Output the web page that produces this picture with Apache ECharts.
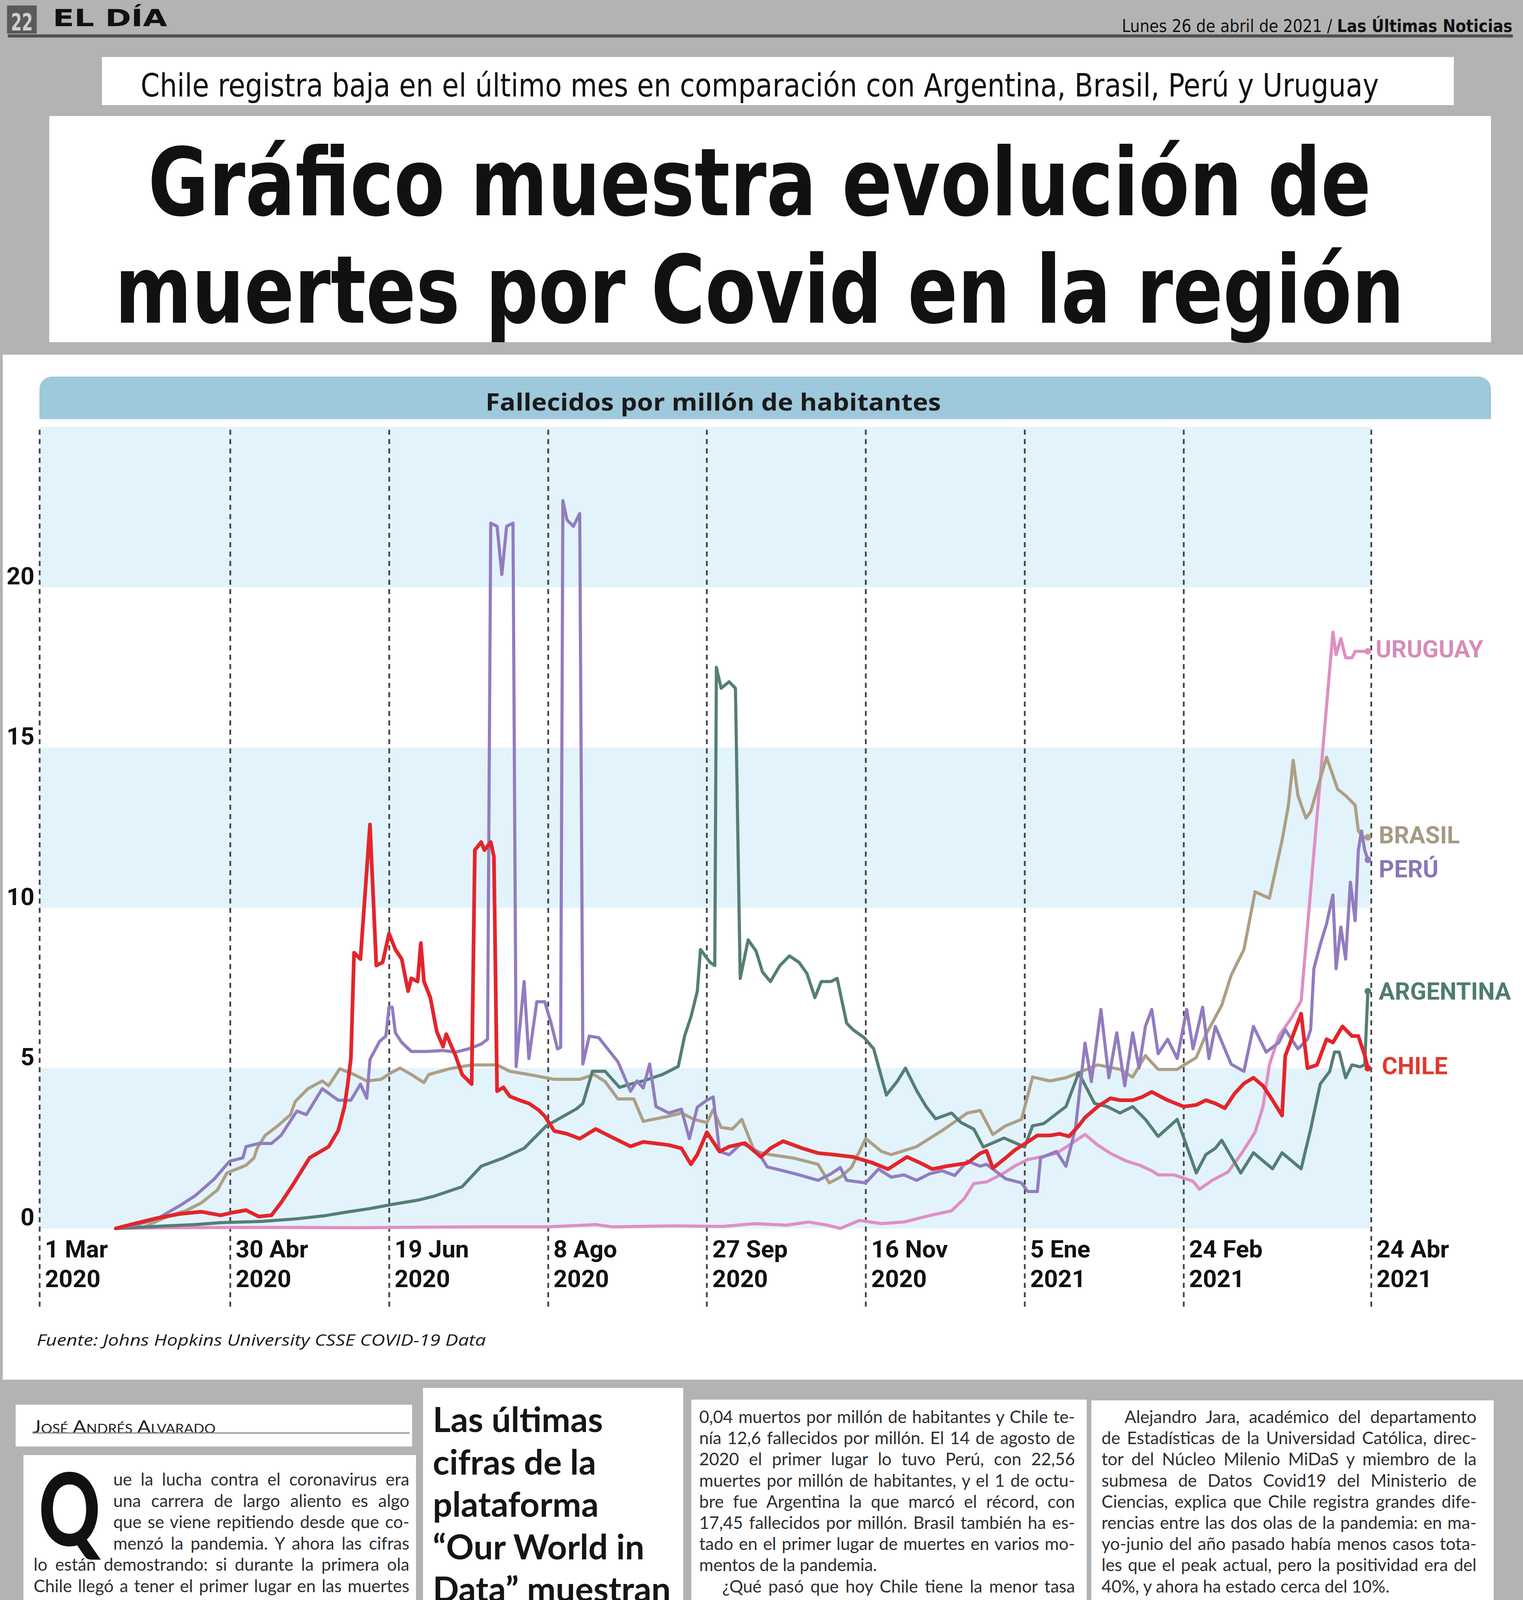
<!DOCTYPE html>
<html><head><meta charset="utf-8">
<script src="https://cdn.jsdelivr.net/npm/echarts@6/dist/echarts.min.js"></script>
<style>
html,body{margin:0;padding:0;}
body{width:3899px;height:4960px;background:#b3b3b3;position:relative;overflow:hidden;}
.box{position:absolute;background:#fff;}
.fit{position:absolute;white-space:nowrap;transform-origin:0 0;line-height:1;}
.col{position:absolute;font-family:Lato,'Noto Sans',sans-serif;font-size:44px;color:#2e2e2e;}
.col .ln{white-space:nowrap;}
.col .ln span{display:inline-block;transform-origin:0 0;}
#chart{position:absolute;left:0;top:908px;width:3899px;height:2624px;}
</style></head>
<body>
<!-- top header -->
<div class="box" style="left:18px;top:14px;width:76px;height:72px;background:#5a5a5a;"></div>
<div class="fit" data-w="56" style="left:28px;top:22px;font:bold 60px 'DejaVu Sans Condensed','DejaVu Sans';color:#cfcfcf;">22</div>
<div class="fit" data-w="293" style="left:135px;top:11px;font:bold 60px 'DejaVu Sans';color:#111;">EL DÍA</div>
<div class="fit" data-w="1000" style="left:2872px;top:41px;font:44px 'DejaVu Sans Condensed','DejaVu Sans';color:#111;">Lunes 26 de abril de 2021 / <b>Las Últimas Noticias</b></div>
<div class="box" style="left:20px;top:88px;width:3853px;height:8px;background:#505050;"></div>

<!-- subtitle + title -->
<div class="box" style="left:261px;top:146px;width:3461px;height:123px;"></div>
<div class="fit" data-w="3170" style="left:360px;top:171px;font:82px 'DejaVu Sans Condensed','DejaVu Sans';color:#111;">Chile registra baja en el último mes en comparación con Argentina, Brasil, Perú y Uruguay</div>
<div class="box" style="left:126px;top:297px;width:3691px;height:579px;"></div>
<div class="fit" data-w="3131" style="left:379px;top:328px;font:bold 240px 'DejaVu Sans Condensed','DejaVu Sans';color:#111;">Gráfico muestra evolución de</div>
<div class="fit" data-w="3301" style="left:294px;top:603px;font:bold 240px 'DejaVu Sans Condensed','DejaVu Sans';color:#111;">muertes por Covid en la región</div>

<!-- chart panel -->
<div class="box" style="left:7px;top:908px;width:3892px;height:2624px;"></div>
<div class="box" style="left:101px;top:964px;width:3716px;height:109px;background:#9ec8dc;border-radius:32px 32px 0 0;"></div>
<div class="fit" data-w="1166" style="left:1243px;top:987px;font:bold 60px 'Open Sans','Noto Sans',sans-serif;color:#1a1a1a;">Fallecidos por millón de habitantes</div>
<div class="fit" data-w="1150" style="left:94px;top:3402px;font:italic 40px 'Open Sans','Noto Sans',sans-serif;color:#1a1a1a;">Fuente: Johns Hopkins University CSSE COVID-19 Data</div>
<div id="chart"></div>

<!-- article -->
<div class="box" style="left:40px;top:3596px;width:1015px;height:107px;"></div>
<div class="fit" data-w="469" style="left:83px;top:3624px;font:46px Lato,'Noto Sans',sans-serif;font-variant:small-caps;color:#222;">José Andrés Alvarado</div>
<div class="box" style="left:83px;top:3667px;width:966px;height:3px;background:#8a8a8a;"></div>
<div class="box" style="left:60px;top:3725px;width:1005px;height:1235px;"></div>
<div class="fit" data-w="158" style="left:99px;top:3702px;font:900 258px Lato,'Noto Sans',sans-serif;color:#111;">Q</div>
<div class="col" id="col1" style="left:86px;top:3759px;width:962px;"></div>

<div class="box" style="left:1083px;top:3553px;width:666px;height:1279px;"></div>
<div class="col" id="col2" style="left:1108px;top:3578px;font-weight:bold;font-size:88px;line-height:108.6px;color:#151515;"></div>

<div class="box" style="left:1770px;top:3583px;width:1012px;height:1377px;"></div>
<div class="col" id="col3" style="left:1790px;top:3599px;width:962px;"></div>
<div class="box" style="left:2794px;top:3585px;width:1030px;height:1375px;"></div>
<div class="col" id="col4" style="left:2820px;top:3599px;width:960px;"></div>

<script>
// ---------------- chart data (x = days since 1 Mar 2020, y = deaths per million) ----------------
const TICK_DAYS = [0, 60, 110, 160, 210, 260, 310, 360, 419];
const TICK_DAY_MONTH = ['1 Mar', '30 Abr', '19 Jun', '8 Ago', '27 Sep', '16 Nov', '5 Ene', '24 Feb', '24 Abr'];
const TICK_YEAR = ['2020', '2020', '2020', '2020', '2020', '2020', '2021', '2021', '2021'];
const Y_TICKS = [0, 5, 10, 15, 20];
const BANDS = [[0, 5], [10, 15], [20, 25]];

const URUGUAY = [[24,0],[40,0.02],[60,0.03],[80,0.03],[100,0.02],[120,0.04],[140,0.05],[160,0.05],[175,0.12],[180,0.05],[200,0.08],[215,0.06],[225,0.15],[235,0.1],[242,0.2],[248,0.1],[252,0.0],[258,0.25],[265,0.15],[272,0.2],[280,0.4],[287,0.55],[291,0.93],[294,1.4],[298,1.45],[303,1.7],[307,1.95],[311,2.15],[316,2.25],[320,2.34],[324,2.6],[329,2.93],[333,2.6],[337,2.34],[342,2.1],[346,1.98],[350,1.8],[352,1.67],[357,1.67],[363,1.47],[365,1.22],[369,1.5],[374,1.76],[378,2.3],[382.5,3.0],[385,3.8],[387,5.1],[390,6.0],[394,6.57],[397,7.1],[407,18.6],[408,17.9],[409.5,18.4],[411,17.8],[413,17.8],[414,18.0],[418,18.0]];

const BRASIL = [[33,0.05],[41,0.4],[46,0.55],[51,0.8],[56,1.2],[59,1.73],[62,1.85],[65,1.97],[67.5,2.2],[68.5,2.5],[71,2.9],[75,3.2],[79,3.55],[80.5,3.96],[84.5,4.36],[89,4.6],[91,4.45],[94.5,4.98],[99,4.8],[103,4.6],[107.5,4.65],[110.5,4.85],[113.5,5.0],[117,4.8],[121,4.55],[122.5,4.8],[129,4.98],[136,5.1],[144,5.1],[148,4.9],[154,4.8],[162,4.65],[170,4.65],[174.5,4.8],[178,4.58],[182,4.04],[187,4.04],[190,3.34],[198,3.5],[202,3.6],[206,3.4],[210,3.3],[212,3.7],[214.5,3.15],[218,3.1],[221,3.4],[225,2.4],[230,2.3],[237,2.2],[245,2.0],[248.5,1.42],[252,1.6],[255.5,1.9],[260,2.8],[265,2.4],[268,2.3],[276,2.55],[284,3.05],[292,3.6],[296,3.68],[300,2.93],[304,3.2],[309,3.4],[312.5,4.72],[318,4.6],[323,4.7],[328,4.9],[333,5.1],[340,4.96],[344,4.72],[348,5.39],[352,4.96],[358,4.96],[364,5.33],[367,6.04],[372,6.96],[375,7.9],[379,8.7],[382.5,10.5],[387,10.3],[391,12.1],[393,13.2],[394.5,14.6],[396,13.5],[398.5,12.8],[400,13.0],[405,14.7],[408.5,13.7],[411,13.5],[414,13.2],[415,12.4],[416.5,12.2],[418,12.2]];

const ARGENTINA = [[24,0],[40,0.08],[49,0.12],[57,0.18],[70,0.22],[81,0.3],[90,0.4],[96,0.5],[104,0.62],[111,0.75],[119,0.88],[124,1.0],[127,1.1],[133,1.3],[139,1.94],[146,2.2],[152.5,2.5],[159.5,3.2],[164,3.45],[169,3.73],[171,3.9],[174,4.9],[178,4.9],[182.5,4.4],[186,4.5],[190,4.6],[196,4.8],[201,5.05],[203,6.0],[205,6.6],[207,7.4],[208,8.7],[211,8.3],[212.5,8.2],[213,17.5],[214.5,16.85],[217,17.05],[219,16.85],[220.5,7.8],[223,9.0],[225.5,8.65],[227.5,8.0],[230,7.7],[233,8.2],[236,8.5],[239,8.3],[241.5,7.95],[244,7.2],[246,7.7],[249,7.7],[251,7.8],[254,6.4],[256,6.2],[259.5,5.95],[262.5,5.6],[266.5,4.16],[270,4.6],[272.5,5.0],[276,4.3],[279,3.8],[282,3.42],[287,3.6],[290,3.3],[294,3.1],[297,2.54],[303.5,2.82],[310,2.54],[312.5,3.2],[316,3.27],[321,3.65],[323,3.8],[327,4.85],[332,3.9],[336,3.8],[340,3.6],[344,3.8],[348,3.4],[352,2.87],[358,3.4],[364,1.73],[367,2.3],[370,2.5],[372,2.75],[378,1.73],[382,2.36],[388,1.86],[391,2.36],[397,1.86],[400,3.1],[403,4.5],[406,4.9],[407.5,5.5],[409,5.5],[411,4.7],[413,5.1],[415.5,5.04],[417,5.1],[418,7.4]];

const PERU = [[24,0],[30,0.1],[37,0.3],[44,0.7],[49,1.02],[55,1.54],[59,2.0],[60,2.1],[64,2.2],[65,2.55],[69,2.65],[73,2.65],[76,2.9],[81,3.66],[84,3.55],[89,4.36],[94,4.0],[98,4.0],[101,4.5],[103,4.06],[104,5.27],[107,5.83],[109,6.0],[110,6.9],[111,6.9],[112,6.1],[114,5.8],[117,5.52],[122,5.52],[127,5.55],[131,5.5],[135,5.6],[139,5.75],[141,5.9],[142,22.0],[144,21.9],[145.5,20.4],[147,21.9],[149,22.0],[150,5.05],[152.5,7.7],[154,5.3],[156.5,7.07],[159,7.07],[161,6.4],[163,5.6],[164,5.65],[164.7,22.7],[166,22.1],[168,21.9],[170,22.3],[171,5.13],[173,6.0],[176,5.95],[182,5.2],[186,4.28],[188,4.6],[190,4.38],[192,5.13],[194,3.8],[198,3.6],[202,3.72],[204.5,2.8],[207,3.78],[210,4.0],[212,4.1],[214,2.4],[217,2.3],[221,2.66],[226,2.4],[229,1.92],[234,1.8],[239,1.67],[245,1.5],[249,1.7],[252,1.9],[254,1.5],[260,1.42],[264,1.85],[268,1.6],[272,1.67],[276,1.5],[280,1.7],[284,1.8],[288,1.65],[292,2.1],[296,1.94],[298,2.0],[304,1.55],[309,1.42],[311,1.15],[314,1.15],[315,2.2],[320,2.4],[323,1.94],[326,3.13],[329,5.78],[331,4.58],[334,6.83],[336.5,4.7],[339,6.1],[341.5,4.45],[344,6.1],[346,5.0],[348,6.3],[350,6.83],[352,5.45],[355,5.9],[358,5.3],[361,6.83],[363,5.6],[366,6.9],[368,5.3],[370,6.3],[375,5.12],[379,4.9],[382,6.3],[386,5.5],[390,5.8],[392,6.2],[396,5.6],[399,5.9],[400,6.2],[401,8.1],[403,8.85],[405,9.5],[407,10.4],[408,8.1],[409.5,9.4],[411,8.4],[412.5,10.8],[414,9.6],[415,11.8],[416,12.4],[417,11.8],[418,11.5]];

const CHILE = [[24,0.0],[30,0.15],[37,0.32],[44,0.45],[51,0.52],[57,0.41],[61,0.5],[65,0.57],[69,0.37],[73,0.41],[76,0.8],[80,1.4],[85,2.2],[91,2.55],[94,3.05],[96,3.8],[97,4.5],[98,5.3],[99,8.6],[101,8.4],[104,12.6],[106,8.2],[108,8.3],[110,9.2],[112,8.7],[114,8.4],[116,7.4],[117,7.8],[119,7.7],[120,8.9],[121,7.7],[123,7.2],[125,6.15],[127,5.67],[128,6.06],[131,5.37],[133,4.8],[136,4.5],[137,11.8],[139,12.05],[140,11.8],[142,12.05],[143,11.6],[144,4.28],[146,4.4],[148,4.12],[151,4.0],[154,3.9],[157,3.7],[159,3.5],[162,3.04],[166,2.95],[170,2.8],[175,3.1],[180,2.85],[186,2.56],[190,2.7],[194,2.65],[198,2.6],[202,2.5],[205,2.0],[207,2.3],[210,3.0],[214,2.4],[217,2.55],[222,2.66],[227,2.23],[230,2.5],[234,2.72],[240,2.5],[245,2.35],[250,2.3],[256,2.23],[262,2.05],[267,1.85],[273,2.23],[277,2.05],[281,1.85],[286,1.95],[292,2.04],[296,2.34],[298,2.42],[300,1.88],[304,2.2],[307,2.45],[311,2.7],[314,2.9],[318,2.9],[321,2.95],[324,2.87],[327,3.2],[329,3.46],[333,3.8],[337,4.06],[340,4.0],[344,4.0],[347,4.1],[350,4.26],[353,4.1],[355,4.0],[360,3.8],[364,3.85],[367,4.0],[370,3.9],[373,3.75],[376,4.2],[379,4.52],[382,4.7],[385,4.45],[388,4.0],[391,3.52],[392,5.38],[397,6.7],[399,5.0],[402,5.1],[405,5.9],[407,5.8],[410,6.3],[413,6.0],[415,6.0],[417,5.4],[418,5.0]];

const SERIES_DEF = [
  {name: 'URUGUAY',   data: URUGUAY,   color: '#df8fc3', label: '#d68cba', width: 8,   dx: 0,  dy: 0},
  {name: 'BRASIL',    data: BRASIL,    color: '#ad9f85', label: '#a59b83', width: 8,   dx: 8,  dy: 0},
  {name: 'ARGENTINA', data: ARGENTINA, color: '#557e74', label: '#4f7b70', width: 8,   dx: 8,  dy: 6},
  {name: 'PERÚ',      data: PERU,      color: '#927cbf', label: '#8b75b8', width: 8,   dx: 8,  dy: 30},
  {name: 'CHILE',     data: CHILE,     color: '#e3252b', label: '#e0392d', width: 9.5, dx: 16, dy: 0}
];

// ---------------- article text ----------------
const COL1 = [
  '#ue la lucha contra el coronavirus era',
  '#una carrera de largo aliento es algo',
  '#que se viene repitiendo desde que co-',
  '#menzó la pandemia. Y ahora las cifras',
  'lo están demostrando: si durante la primera ola',
  'Chile llegó a tener el primer lugar en las muertes',
  'por millón de habitantes entre países de América',
  'del Sur y Uruguay era destacado por lo contrario,',
  'un año después el escenario es completamente',
  'distinto.|',
  '>Según “Our World in Data”, un depositorio de',
  'información online editado por profesionales de',
  'la Universidad de Oxford, este sábado 24 de abril',
  'Chile registró 5,13 muertos por cada millón de',
  'habitantes, por debajo de Argentina, Perú, Brasil',
  'y Uruguay. Esta nación tuvo 17,89 muertos por',
  'millón de habitantes, lo que se traduce en unos',
  '70 muertos diarios en un país de solo 3,4 millo-',
  'nes de habitantes.|',
  '>El mismo sitio web mostró que el 14 de junio',
  'de 2020 (el día de mayor muertes en Chile por',
  'Covid, según esta medición), Uruguay registraba'
];
const COL2 = ['Las últimas', 'cifras de la', 'plataforma', '“Our World in', 'Data” muestran',
  'que la', 'evolución de la', 'segunda ola es', 'distinta al peak', 'del año 2020.'];
const COL3 = [
  '0,04 muertos por millón de habitantes y Chile te-',
  'nía 12,6 fallecidos por millón. El 14 de agosto de',
  '2020 el primer lugar lo tuvo Perú, con 22,56',
  'muertes por millón de habitantes, y el 1 de octu-',
  'bre fue Argentina la que marcó el récord, con',
  '17,45 fallecidos por millón. Brasil también ha es-',
  'tado en el primer lugar de muertes en varios mo-',
  'mentos de la pandemia.|',
  '>¿Qué pasó que hoy Chile tiene la menor tasa',
  'de letalidad entre sus vecinos?|',
  '>“Las razones son múltiples”, dice la doctora',
  'Paula Margozzini, epidemióloga de la Universi-',
  'dad Católica. “Nuestros vecinos, especialmente',
  'Brasil, comenzaron a fines de 2020 con enormes',
  'olas y el resto de los países latinoamericanos',
  'también le siguieron en el verano y comienzos de',
  'este año, y esto hace inevitablemente subir la',
  'mortalidad en los siguientes meses. Estas tasas',
  'expresan una mezcla entre incidencia y letalidad,',
  'es decir, pueden subir por mucho contagio o por',
  'no tener suficiente capacidad de camas críticas.',
  'En el caso de Uruguay, se agrega el hecho de que',
  'tiene población más envejecida, por lo cual, si no',
  'protege especialmente a los adultos mayores,',
  'tendrá gran letalidad”.|'
];
const COL4 = [
  '>Alejandro Jara, académico del departamento',
  'de Estadísticas de la Universidad Católica, direc-',
  'tor del Núcleo Milenio MiDaS y miembro de la',
  'submesa de Datos Covid19 del Ministerio de',
  'Ciencias, explica que Chile registra grandes dife-',
  'rencias entre las dos olas de la pandemia: en ma-',
  'yo-junio del año pasado había menos casos tota-',
  'les que el peak actual, pero la positividad era del',
  '40%, y ahora ha estado cerca del 10%.|',
  '>No obstante, y evitando cualquier lectura',
  'triunfalista, Jara atribuye la baja en muertes en',
  'Chile a varios factores, entre ellos la vacunación',
  'efectiva de los grupos con mayor mortalidad, co-',
  'mo los adultos mayores y enfermos crónicos, y el',
  'comportamiento: “Se puede decir que la gente',
  'ha aprendido a cuidarse mucho mejor, especial-',
  'mente los grupos de mayor riesgo”, dice.|',
  '>Jara explica que la actual ola de contagios tie-',
  'ne efectos muy distintos: hoy tenemos más casos',
  'sintomáticos confirmados, pero hay más jóvenes',
  'enfermos de gravedad que adultos mayores. Por',
  'lo mismo, llama a no relajar ninguna medida, ya',
  'que estos pacientes de menor edad, si bien tie-',
  'nen mejor pronóstico de sobrevida, igual ocupan',
  'camas críticas y lo hacen por más tiempo.|'
];

function buildCol(id, lines, W, lh, justify) {
  const el = document.getElementById(id);
  el.innerHTML = '';
  lines.forEach(raw => {
    let s = raw, ind = 0, last = !justify;
    if (s.startsWith('#')) { ind = 204; s = s.slice(1); }
    if (s.startsWith('>')) { ind = 59; s = s.slice(1); }
    if (s.endsWith('|')) { last = true; s = s.slice(0, -1); }
    const ln = document.createElement('div');
    ln.className = 'ln';
    ln.style.height = lh + 'px';
    ln.style.lineHeight = lh + 'px';
    const sp = document.createElement('span');
    sp.textContent = s;
    sp.style.marginLeft = ind + 'px';
    ln.appendChild(sp);
    el.appendChild(ln);
    if (W) {
      const tgt = W - ind;
      const w = sp.getBoundingClientRect().width;
      if (!last) {
        const n = (s.match(/ /g) || []).length;
        if (n) sp.style.wordSpacing = ((tgt - w) / n) + 'px';
      } else if (w > tgt) {
        sp.style.transform = 'scaleX(' + (tgt / w) + ')';
      }
    }
  });
}
function fitAll() {
  document.querySelectorAll('.fit').forEach(el => {
    el.style.transform = 'none';
    const w = el.getBoundingClientRect().width;
    const t = parseFloat(el.dataset.w);
    if (w > 0) el.style.transform = 'scaleX(' + (t / w) + ')';
  });
}
function layoutText() {
  fitAll();
  buildCol('col1', COL1, 962, 54.6, true);
  buildCol('col2', COL2, 0, 108.6, false);
  buildCol('col3', COL3, 962, 54.2, true);
  buildCol('col4', COL4, 960, 54.2, true);
}
layoutText();
if (document.fonts && document.fonts.ready) document.fonts.ready.then(layoutText);

// ---------------- chart ----------------
const chart = echarts.init(document.getElementById('chart'), null, {renderer: 'canvas'});
const series = [{
  type: 'line', data: [], silent: true, z: 1,
  markArea: {silent: true, z: 1, itemStyle: {color: '#e2f3fc'},
    data: BANDS.map(b => [{yAxis: b[0]}, {yAxis: b[1]}])},
  markLine: {silent: true, z: 2, symbol: ['none', 'none'], label: {show: false},
    lineStyle: {color: '#444', width: 4.5, type: [13, 11]},
    data: TICK_DAYS.map(d => ({xAxis: d}))}
}];
SERIES_DEF.forEach((s, k) => {
  const n = s.data.length;
  series.push({
    type: 'line', name: s.name, z: 3 + k,
    data: s.data,
    showSymbol: true, symbol: 'circle',
    symbolSize: (v, p) => (p.dataIndex === n - 1 ? 17 : 0),
    itemStyle: {color: s.color},
    lineStyle: {color: s.color, width: s.width, join: 'round', cap: 'round'},
    endLabel: {show: true, formatter: '{a}', color: s.label, fontFamily: 'Roboto',
      fontWeight: 'bold', fontSize: 61, distance: 20, offset: [s.dx, s.dy]},
    emphasis: {disabled: true}
  });
});

// grid extends 2.44 units below zero so the dashed guides reach under the tick labels;
// the date labels are pulled back up to sit just under the zero line.
const Y_MIN = -2.44;
chart.setOption({
  animation: false,
  grid: {left: 101, top: 185, width: 3409, height: 2252, containLabel: false},
  xAxis: {
    type: 'value', min: 0, max: 419, position: 'bottom',
    axisLine: {show: false, onZero: false}, axisTick: {show: false}, splitLine: {show: false},
    axisLabel: {
      customValues: TICK_DAYS, align: 'left', verticalAlign: 'top', margin: -180,
      padding: [0, 0, 0, 14], fontFamily: 'Roboto', fontWeight: 'bold', fontSize: 62,
      lineHeight: 76, color: '#111',
      formatter: v => {
        const i = TICK_DAYS.findIndex(t => Math.abs(t - v) < 0.5);
        return i < 0 ? '' : TICK_DAY_MONTH[i] + '\n' + TICK_YEAR[i];
      }
    }
  },
  yAxis: {
    type: 'value', min: Y_MIN, max: 25,
    axisLine: {show: false}, axisTick: {show: false}, splitLine: {show: false},
    axisLabel: {customValues: Y_TICKS, margin: 13, verticalAlign: 'bottom', lineHeight: 46,
      fontFamily: 'Roboto', fontWeight: 'bold', fontSize: 62, color: '#111'}
  },
  series: series
});
</script>
</body></html>
